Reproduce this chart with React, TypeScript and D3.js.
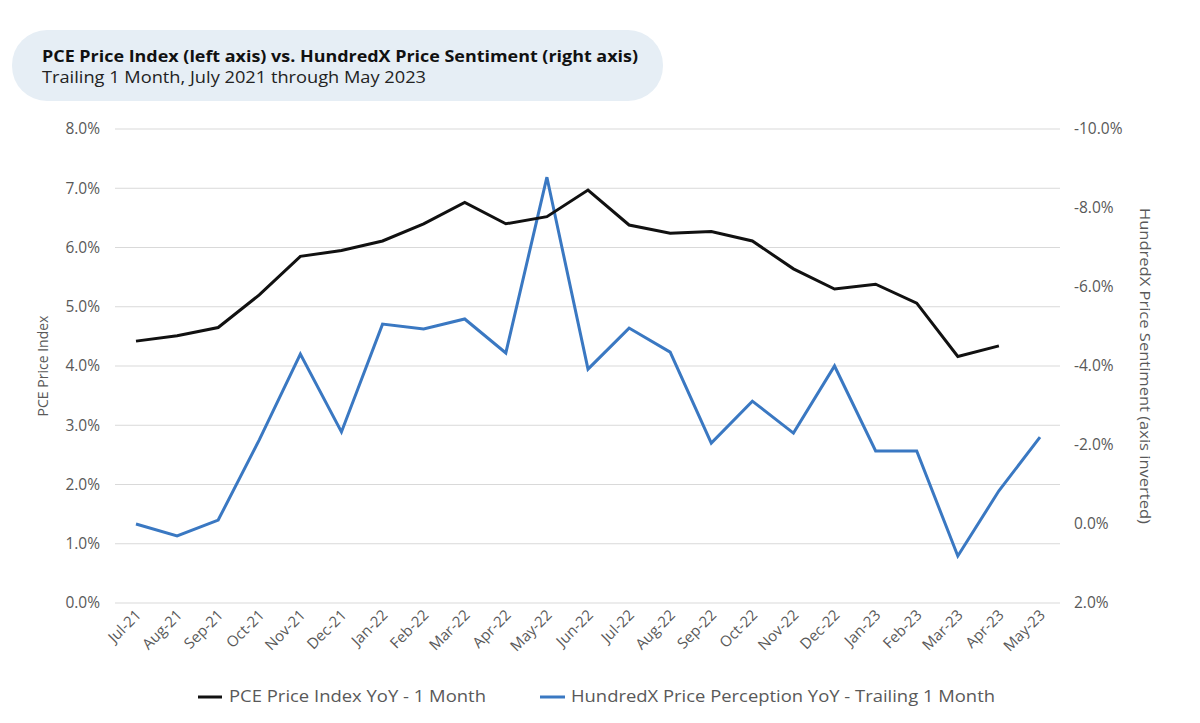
import React from 'react';
import * as d3 from 'd3';

const months = ['Jul-21','Aug-21','Sep-21','Oct-21','Nov-21','Dec-21','Jan-22','Feb-22','Mar-22','Apr-22','May-22','Jun-22','Jul-22','Aug-22','Sep-22','Oct-22','Nov-22','Dec-22','Jan-23','Feb-23','Mar-23','Apr-23','May-23'];
const pce: (number | null)[] = [4.42,4.51,4.65,5.2,5.85,5.95,6.11,6.4,6.76,6.4,6.52,6.97,6.38,6.24,6.27,6.11,5.64,5.3,5.38,5.06,4.16,4.34,null];
const sentiment = [0.0,0.3,-0.1,-2.13,-4.3,-2.33,-5.06,-4.94,-5.19,-4.33,-8.78,-3.92,-4.96,-4.35,-2.05,-3.11,-2.3,-4.0,-1.85,-1.85,0.81,-0.84,-2.2];
const leftTicks = [0,1,2,3,4,5,6,7,8];
const rightTicks = [-10,-8,-6,-4,-2,0,2];

const W = 1200, H = 723;
const font = '"Open Sans", Lato, sans-serif';

export default function App() {
  const x = d3.scalePoint<string>().domain(months).range([136, 1040]);
  const yL = d3.scaleLinear().domain([0, 8]).range([603, 129]);
  const yR = d3.scaleLinear().domain([2, -10]).range([603, 129]);
  const pceLine = d3.line<number | null>()
    .defined(d => d !== null)
    .x((_, i) => x(months[i])!)
    .y(d => yL(d as number));
  const sentLine = d3.line<number>().x((_, i) => x(months[i])!).y(d => yR(d));

  return (
    <svg width={W} height={H} style={{ position: 'absolute', left: 0, top: 0, fontFamily: font }}>
      <rect width={W} height={H} fill="#fff" />
      <rect x={12} y={30} width={651} height={71} rx={35} fill="#e6eef5" />
      <text x={42} y={62} fontSize={15.5} fontWeight={700} fill="#111" textLength={596} lengthAdjust="spacingAndGlyphs">PCE Price Index (left axis) vs. HundredX Price Sentiment (right axis)</text>
      <text x={42} y={83} fontSize={15.5} fill="#222" textLength={384} lengthAdjust="spacingAndGlyphs">Trailing 1 Month, July 2021 through May 2023</text>

      {leftTicks.map(t => (
        <g key={t}>
          <line x1={115} x2={1060} y1={yL(t)} y2={yL(t)} stroke="#d9d9d9" />
          <text x={100} y={yL(t)} dy="0.35em" textAnchor="end" fontSize={15.5} fill="#595959">{t.toFixed(1)}%</text>
        </g>
      ))}
      {rightTicks.map(t => (
        <text key={t} x={1074} y={yR(t)} dy="0.35em" fontSize={15.5} fill="#595959">{t.toFixed(1)}%</text>
      ))}
      <text transform={`translate(48,366) rotate(-90)`} textAnchor="middle" fontSize={14} fill="#595959">PCE Price Index</text>
      <text transform={`translate(1140,366) rotate(90)`} textAnchor="middle" fontSize={14.5} fill="#595959" textLength={316} lengthAdjust="spacingAndGlyphs">HundredX Price Sentiment (axis inverted)</text>

      {months.map(m => (
        <text key={m} transform={`translate(${x(m)! + 6},${616}) rotate(-45)`} textAnchor="end" fontSize={15} fill="#595959">{m}</text>
      ))}

      <path d={sentLine(sentiment)!} fill="none" stroke="#3a78c2" strokeWidth={3} />
      <path d={pceLine(pce)!} fill="none" stroke="#111" strokeWidth={3} />

      <line x1={198} x2={222} y1={697} y2={697} stroke="#111" strokeWidth={3} />
      <text x={229} y={697} dy="0.35em" fontSize={15.5} fill="#595959" textLength={257} lengthAdjust="spacingAndGlyphs">PCE Price Index YoY - 1 Month</text>
      <line x1={540} x2={565} y1={697} y2={697} stroke="#3a78c2" strokeWidth={3} />
      <text x={571} y={697} dy="0.35em" fontSize={15.5} fill="#595959" textLength={424} lengthAdjust="spacingAndGlyphs">HundredX Price Perception YoY - Trailing 1 Month</text>
    </svg>
  );
}
